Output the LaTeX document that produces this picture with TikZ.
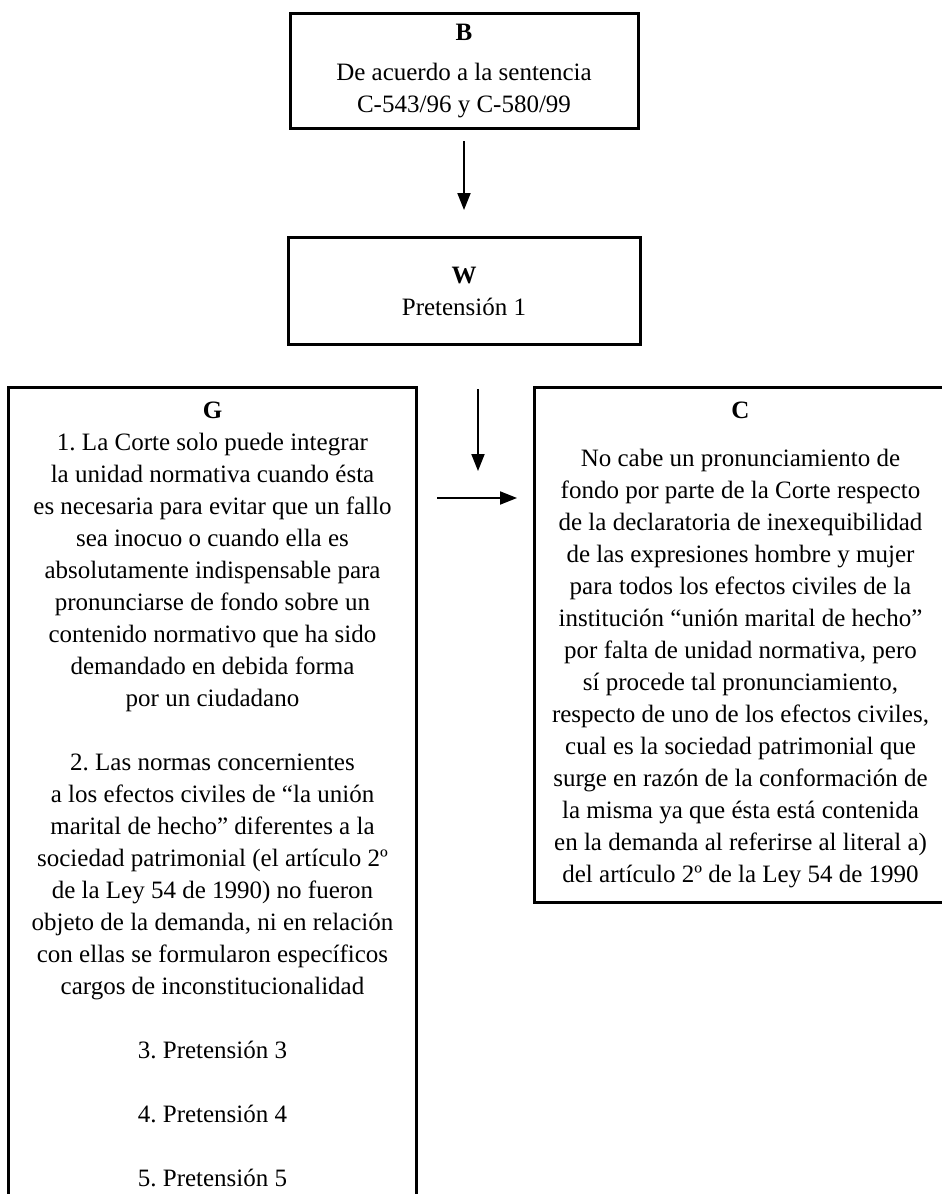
\documentclass[tikz,border=0pt]{standalone}
\usepackage{fontspec}
\setmainfont{Liberation Serif}
\usetikzlibrary{arrows.meta,positioning}
\frenchspacing

\begin{document}
\begin{tikzpicture}[
    panel/.style={draw, line width=1.5pt, align=center, font=\fontsize{12.5}{16}\selectfont, inner xsep=6pt, inner ysep=7pt},
    link/.style={-{Triangle[length=8.5pt,width=6.5pt]}, line width=1pt}]
    \useasboundingbox (0,0) rectangle (471pt,-597pt);

    \node [panel, minimum width=174pt, minimum height=57.5pt, inner ysep=3pt, anchor=north] (B) at (232pt,-6pt)
        {\textbf{B}\\[4pt] De acuerdo a la sentencia\\ C-543/96 y C-580/99};
    \node [panel, minimum width=176pt, minimum height=53.5pt, inner ysep=3pt, below=53pt of B] (W)
        {\textbf{W}\\ Pretensión 1};

    \node [panel, minimum width=206pt, below right=20pt and 34.5pt of W.south] (C) {\textbf{C}\\[8pt]
        No cabe un pronunciamiento de\\
        fondo por parte de la Corte respecto\\
        de la declaratoria de inexequibilidad\\
        de las expresiones hombre y mujer\\
        para todos los efectos civiles de la\\
        institución “unión marital de hecho”\\
        por falta de unidad normativa, pero\\
        sí procede tal pronunciamiento,\\
        respecto de uno de los efectos civiles,\\
        cual es la sociedad patrimonial que\\
        surge en razón de la conformación de\\
        la misma ya que ésta está contenida\\
        en la demanda al referirse al literal a)\\
        del artículo 2º de la Ley 54 de 1990\rule[-3pt]{0pt}{0pt}};

    \node [panel, minimum width=204pt, left=57.5pt of C.north west, anchor=north east] (G) {\textbf{G}\\
        1. La Corte solo puede integrar\\
        la unidad normativa cuando ésta\\
        es necesaria para evitar que un fallo\\
        sea inocuo o cuando ella es\\
        absolutamente indispensable para\\
        pronunciarse de fondo sobre un\\
        contenido normativo que ha sido\\
        demandado en debida forma\\
        por un ciudadano\\[16pt]
        2. Las normas concernientes\\
        a los efectos civiles de “la unión\\
        marital de hecho” diferentes a la\\
        sociedad patrimonial (el artículo 2º\\
        de la Ley 54 de 1990) no fueron\\
        objeto de la demanda, ni en relación\\
        con ellas se formularon específicos\\
        cargos de inconstitucionalidad\\[16pt]
        3. Pretensión 3\\[16pt]
        4. Pretensión 4\\[16pt]
        5. Pretensión 5\rule[-14pt]{0pt}{0pt}};

    \coordinate (vtop) at ([xshift=7pt,yshift=-21.5pt]W.south);
    \coordinate (vtip) at ([yshift=-41pt]vtop);
    \coordinate (hh) at ([yshift=-56pt]G.north east);

    \draw [link, shorten <=5.5pt, shorten >=13pt] (B) -- (W);
    \draw [link] (vtop) -- (vtip);
    \draw [link, shorten <=9.5pt, shorten >=8pt] (hh) -- (hh -| C.west);
\end{tikzpicture}
\end{document}
